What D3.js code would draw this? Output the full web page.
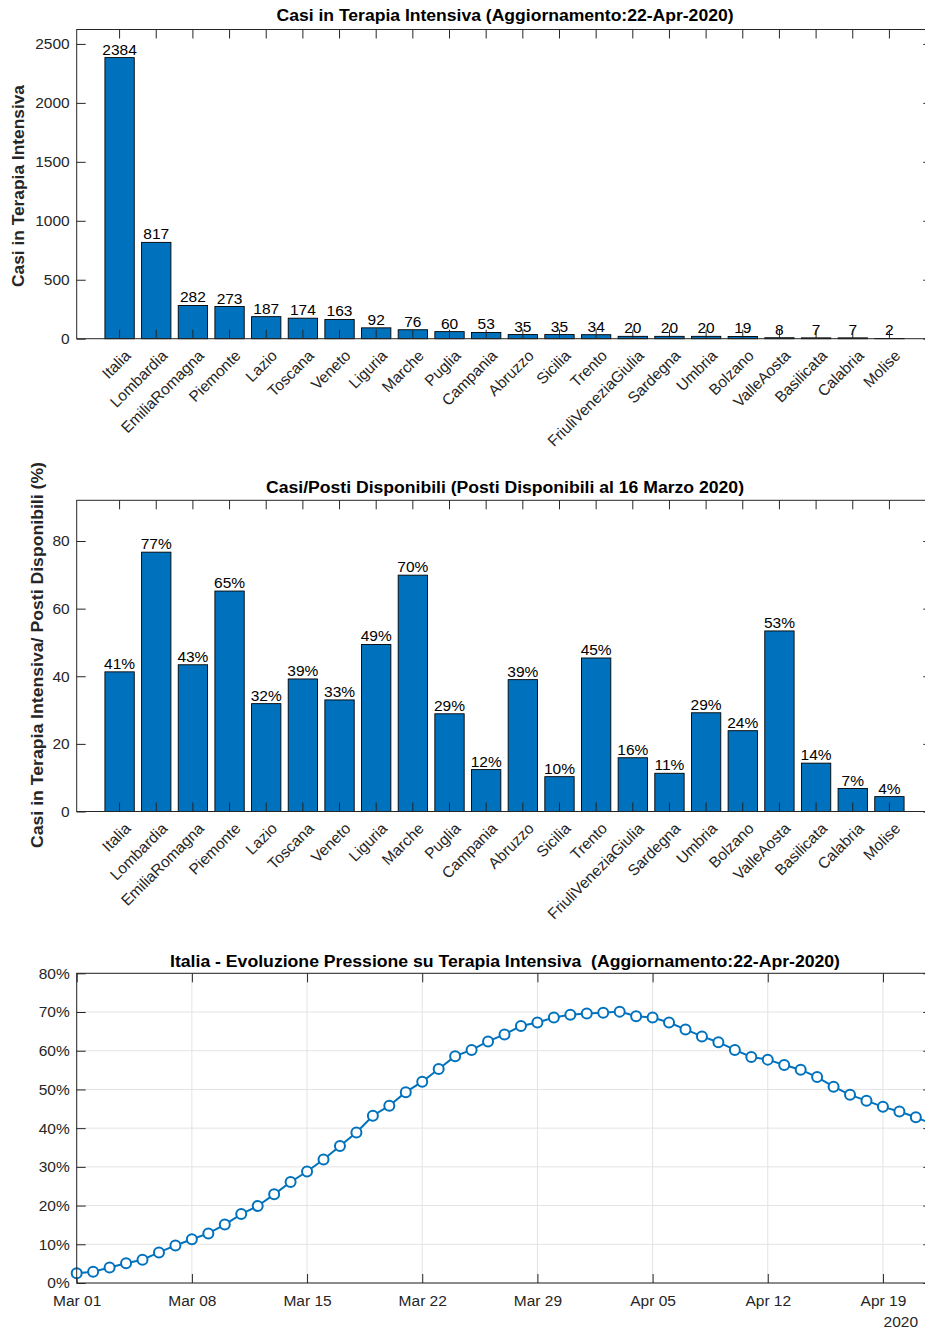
<!DOCTYPE html>
<html>
<head>
<meta charset="utf-8">
<script src="https://cdn.jsdelivr.net/npm/d3@7"></script>
<style>
  html, body { margin: 0; padding: 0; background: #fff; overflow: hidden; }
  svg { display: block; font-family: "Liberation Sans", Arial, Helvetica, sans-serif; }
  text.titolo { white-space: pre; }
</style>
</head>
<body>
<svg id="fig" width="925" height="1332"></svg>
<script>
// Regioni (ordinate per numero di casi in terapia intensiva)
const regioni = ["Italia", "Lombardia", "EmiliaRomagna", "Piemonte", "Lazio", "Toscana", "Veneto",
  "Liguria", "Marche", "Puglia", "Campania", "Abruzzo", "Sicilia", "Trento", "FriuliVeneziaGiulia",
  "Sardegna", "Umbria", "Bolzano", "ValleAosta", "Basilicata", "Calabria", "Molise"];

// Casi in terapia intensiva al 22-Apr-2020
const casiTerapiaIntensiva = [2384, 817, 282, 273, 187, 174, 163, 92, 76, 60, 53, 35, 35, 34, 20, 20, 20, 19, 8, 7, 7, 2];

// Casi / posti disponibili (%)
const pressionePercentuale = [41.3, 76.7, 43.4, 65.2, 31.9, 39.2, 33.0, 49.4, 69.9, 28.9, 12.4, 39.0,
  10.3, 45.4, 15.9, 11.3, 29.2, 23.9, 53.4, 14.3, 6.8, 4.4];

// Italia: pressione giornaliera sulla terapia intensiva (%), dal 1 marzo al 22 aprile 2020
const dataInizio = "2020-03-01";
const pressioneItalia = [
  2.5, 2.9, 4.0, 5.1, 6.0, 7.9, 9.7, 11.3, 12.8, 15.1, 17.8, 19.9, 22.9, 26.1, 28.8, 31.9,
  35.4, 38.9, 43.2, 45.8, 49.3, 52.0, 55.3, 58.6, 60.2, 62.4, 64.2, 66.4, 67.3, 68.6, 69.3,
  69.6, 69.8, 70.1, 68.9, 68.6, 67.3, 65.5, 63.7, 62.2, 60.2, 58.4, 57.7, 56.3, 55.1, 53.2,
  50.7, 48.6, 47.1, 45.5, 44.3, 42.8, 41.1];

// Tick
const yTickCasi = [0, 500, 1000, 1500, 2000, 2500];
const yTickPct = [0, 20, 40, 60, 80];
const yTickPressione = [0, 10, 20, 30, 40, 50, 60, 70, 80];
const xTickDate = ["2020-03-01", "2020-03-08", "2020-03-15", "2020-03-22", "2020-03-29",
  "2020-04-05", "2020-04-12", "2020-04-19"];

const FONT = '"Liberation Sans", Arial, Helvetica, sans-serif';
const AX = "#262626";
const BLU = "#0072BD";
const axL = 76.7, axR = 932.3;
const TICK = 9;
const FS = 15.5;

const svg = d3.select("#fig");
const parseDay = d3.timeParse("%Y-%m-%d");

function styleAxis(sel) {
  sel.select(".domain").remove();
  sel.selectAll(".tick line").attr("stroke", AX).attr("stroke-width", 1);
  sel.selectAll(".tick text").attr("fill", AX).attr("font-size", FS).attr("font-family", FONT);
}

function frame(top, bottom) {
  svg.append("rect")
    .attr("x", axL).attr("y", top)
    .attr("width", axR - axL).attr("height", bottom - top)
    .attr("fill", "none").attr("stroke", AX).attr("stroke-width", 1);
}

function title(text, cx, y, len) {
  svg.append("text")
    .attr("class", "titolo")
    .attr("x", cx).attr("y", y)
    .attr("text-anchor", "middle")
    .attr("font-weight", "bold").attr("font-size", 16).attr("fill", "#000")
    .attr("textLength", len).attr("lengthAdjust", "spacingAndGlyphs")
    .text(text);
}

function yLabel(text, x, cy, len) {
  svg.append("text")
    .attr("transform", `translate(${x},${cy}) rotate(-90)`)
    .attr("text-anchor", "middle")
    .attr("font-weight", "bold").attr("font-size", 17).attr("fill", AX)
    .attr("textLength", len).attr("lengthAdjust", "spacingAndGlyphs")
    .text(text);
}

function barPanel(cfg) {
  const { top, bottom, values, yMax, yTicks, fmt } = cfg;
  const x = d3.scaleBand().domain(regioni).range([axL, axR]).paddingInner(0.2).paddingOuter(0.77);
  const y = d3.scaleLinear().domain([0, yMax]).range([bottom, top]);
  const cx = r => x(r) + x.bandwidth() / 2;
  const g = svg.append("g");

  g.selectAll("rect.bar").data(values).join("rect")
    .attr("class", "bar")
    .attr("x", (d, i) => x(regioni[i]))
    .attr("y", d => y(d))
    .attr("width", x.bandwidth())
    .attr("height", d => bottom - y(d))
    .attr("fill", BLU).attr("stroke", "#000").attr("stroke-width", 0.9);

  g.selectAll("text.val").data(values).join("text")
    .attr("class", "val")
    .attr("x", (d, i) => cx(regioni[i]))
    .attr("y", d => y(d) - 3)
    .attr("text-anchor", "middle")
    .attr("font-size", FS).attr("fill", "#000")
    .text(fmt);

  // assi con tick verso l'interno
  const xb = g.append("g").attr("transform", `translate(0,${bottom})`)
    .call(d3.axisBottom(x).tickSize(-TICK).tickFormat(""));
  styleAxis(xb);
  const xt = g.append("g").attr("transform", `translate(0,${top})`)
    .call(d3.axisTop(x).tickSize(-TICK).tickFormat(""));
  styleAxis(xt);
  const yl = g.append("g").attr("transform", `translate(${axL},0)`)
    .call(d3.axisLeft(y).tickValues(yTicks).tickSize(-TICK).tickPadding(7).tickFormat(d3.format("d")));
  styleAxis(yl);
  const yr = g.append("g").attr("transform", `translate(${axR},0)`)
    .call(d3.axisRight(y).tickValues(yTicks).tickSize(-TICK).tickFormat(""));
  styleAxis(yr);

  frame(top, bottom);

  // etichette delle regioni ruotate
  g.selectAll("text.reg").data(regioni).join("text")
    .attr("class", "reg")
    .attr("transform", r => `translate(${cx(r) + 12},${bottom + 18}) rotate(-45)`)
    .attr("text-anchor", "end")
    .attr("font-size", FS).attr("fill", AX)
    .text(r => r);
}

// Pannello 1: casi in terapia intensiva
barPanel({
  top: 29.5, bottom: 338.7,
  values: casiTerapiaIntensiva,
  yMax: d3.max(casiTerapiaIntensiva) * 1.1,
  yTicks: yTickCasi,
  fmt: d => d3.format("d")(d)
});
title("Casi in Terapia Intensiva (Aggiornamento:22-Apr-2020)", 505, 21, 457);
yLabel("Casi in Terapia Intensiva", 24, 186, 202);

// Pannello 2: casi / posti disponibili
barPanel({
  top: 500.3, bottom: 811.5,
  values: pressionePercentuale,
  yMax: d3.max(pressionePercentuale) * 1.2,
  yTicks: yTickPct,
  fmt: d => Math.round(d) + "%"
});
title("Casi/Posti Disponibili (Posti Disponibili al 16 Marzo 2020)", 505, 493, 478);
yLabel("Casi in Terapia Intensiva/ Posti Disponibili (%)", 43, 655, 386);

// Pannello 3: evoluzione della pressione in Italia
(function () {
  const top = 973.3, bottom = 1283;
  const start = parseDay(dataInizio);
  const giorni = pressioneItalia.map((_, i) => d3.timeDay.offset(start, i));
  const x = d3.scaleTime().domain([start, giorni[giorni.length - 1]]).range([axL, axR]);
  const y = d3.scaleLinear().domain([0, 80]).range([bottom, top]);
  const tickDays = xTickDate.map(parseDay);
  const g = svg.append("g");

  // griglia
  g.selectAll("line.gx").data(tickDays).join("line")
    .attr("x1", d => x(d)).attr("x2", d => x(d))
    .attr("y1", top).attr("y2", bottom)
    .attr("stroke", "#e3e3e3").attr("stroke-width", 1);
  g.selectAll("line.gy").data(yTickPressione).join("line")
    .attr("x1", axL).attr("x2", axR)
    .attr("y1", d => y(d)).attr("y2", d => y(d))
    .attr("stroke", "#e3e3e3").attr("stroke-width", 1);

  const xb = g.append("g").attr("transform", `translate(0,${bottom})`)
    .call(d3.axisBottom(x).tickValues(tickDays).tickSize(-TICK).tickPadding(12)
      .tickFormat(d3.timeFormat("%b %d")));
  styleAxis(xb);
  const xt = g.append("g").attr("transform", `translate(0,${top})`)
    .call(d3.axisTop(x).tickValues(tickDays).tickSize(-TICK).tickFormat(""));
  styleAxis(xt);
  const yl = g.append("g").attr("transform", `translate(${axL},0)`)
    .call(d3.axisLeft(y).tickValues(yTickPressione).tickSize(-TICK).tickPadding(7)
      .tickFormat(d => d + "%"));
  styleAxis(yl);
  const yr = g.append("g").attr("transform", `translate(${axR},0)`)
    .call(d3.axisRight(y).tickValues(yTickPressione).tickSize(-TICK).tickFormat(""));
  styleAxis(yr);

  frame(top, bottom);

  const line = d3.line().x((d, i) => x(giorni[i])).y(d => y(d));
  g.append("path").datum(pressioneItalia)
    .attr("d", line)
    .attr("fill", "none").attr("stroke", BLU).attr("stroke-width", 2);
  g.selectAll("circle.pt").data(pressioneItalia).join("circle")
    .attr("class", "pt")
    .attr("cx", (d, i) => x(giorni[i]))
    .attr("cy", d => y(d))
    .attr("r", 5)
    .attr("fill", "#fff").attr("stroke", BLU).attr("stroke-width", 2);

  svg.append("text")
    .attr("x", 918).attr("y", 1327)
    .attr("text-anchor", "end")
    .attr("font-size", FS).attr("fill", AX)
    .text("2020");
})();
title("Italia - Evoluzione Pressione su Terapia Intensiva  (Aggiornamento:22-Apr-2020)", 505, 967, 670);
</script>
</body>
</html>
